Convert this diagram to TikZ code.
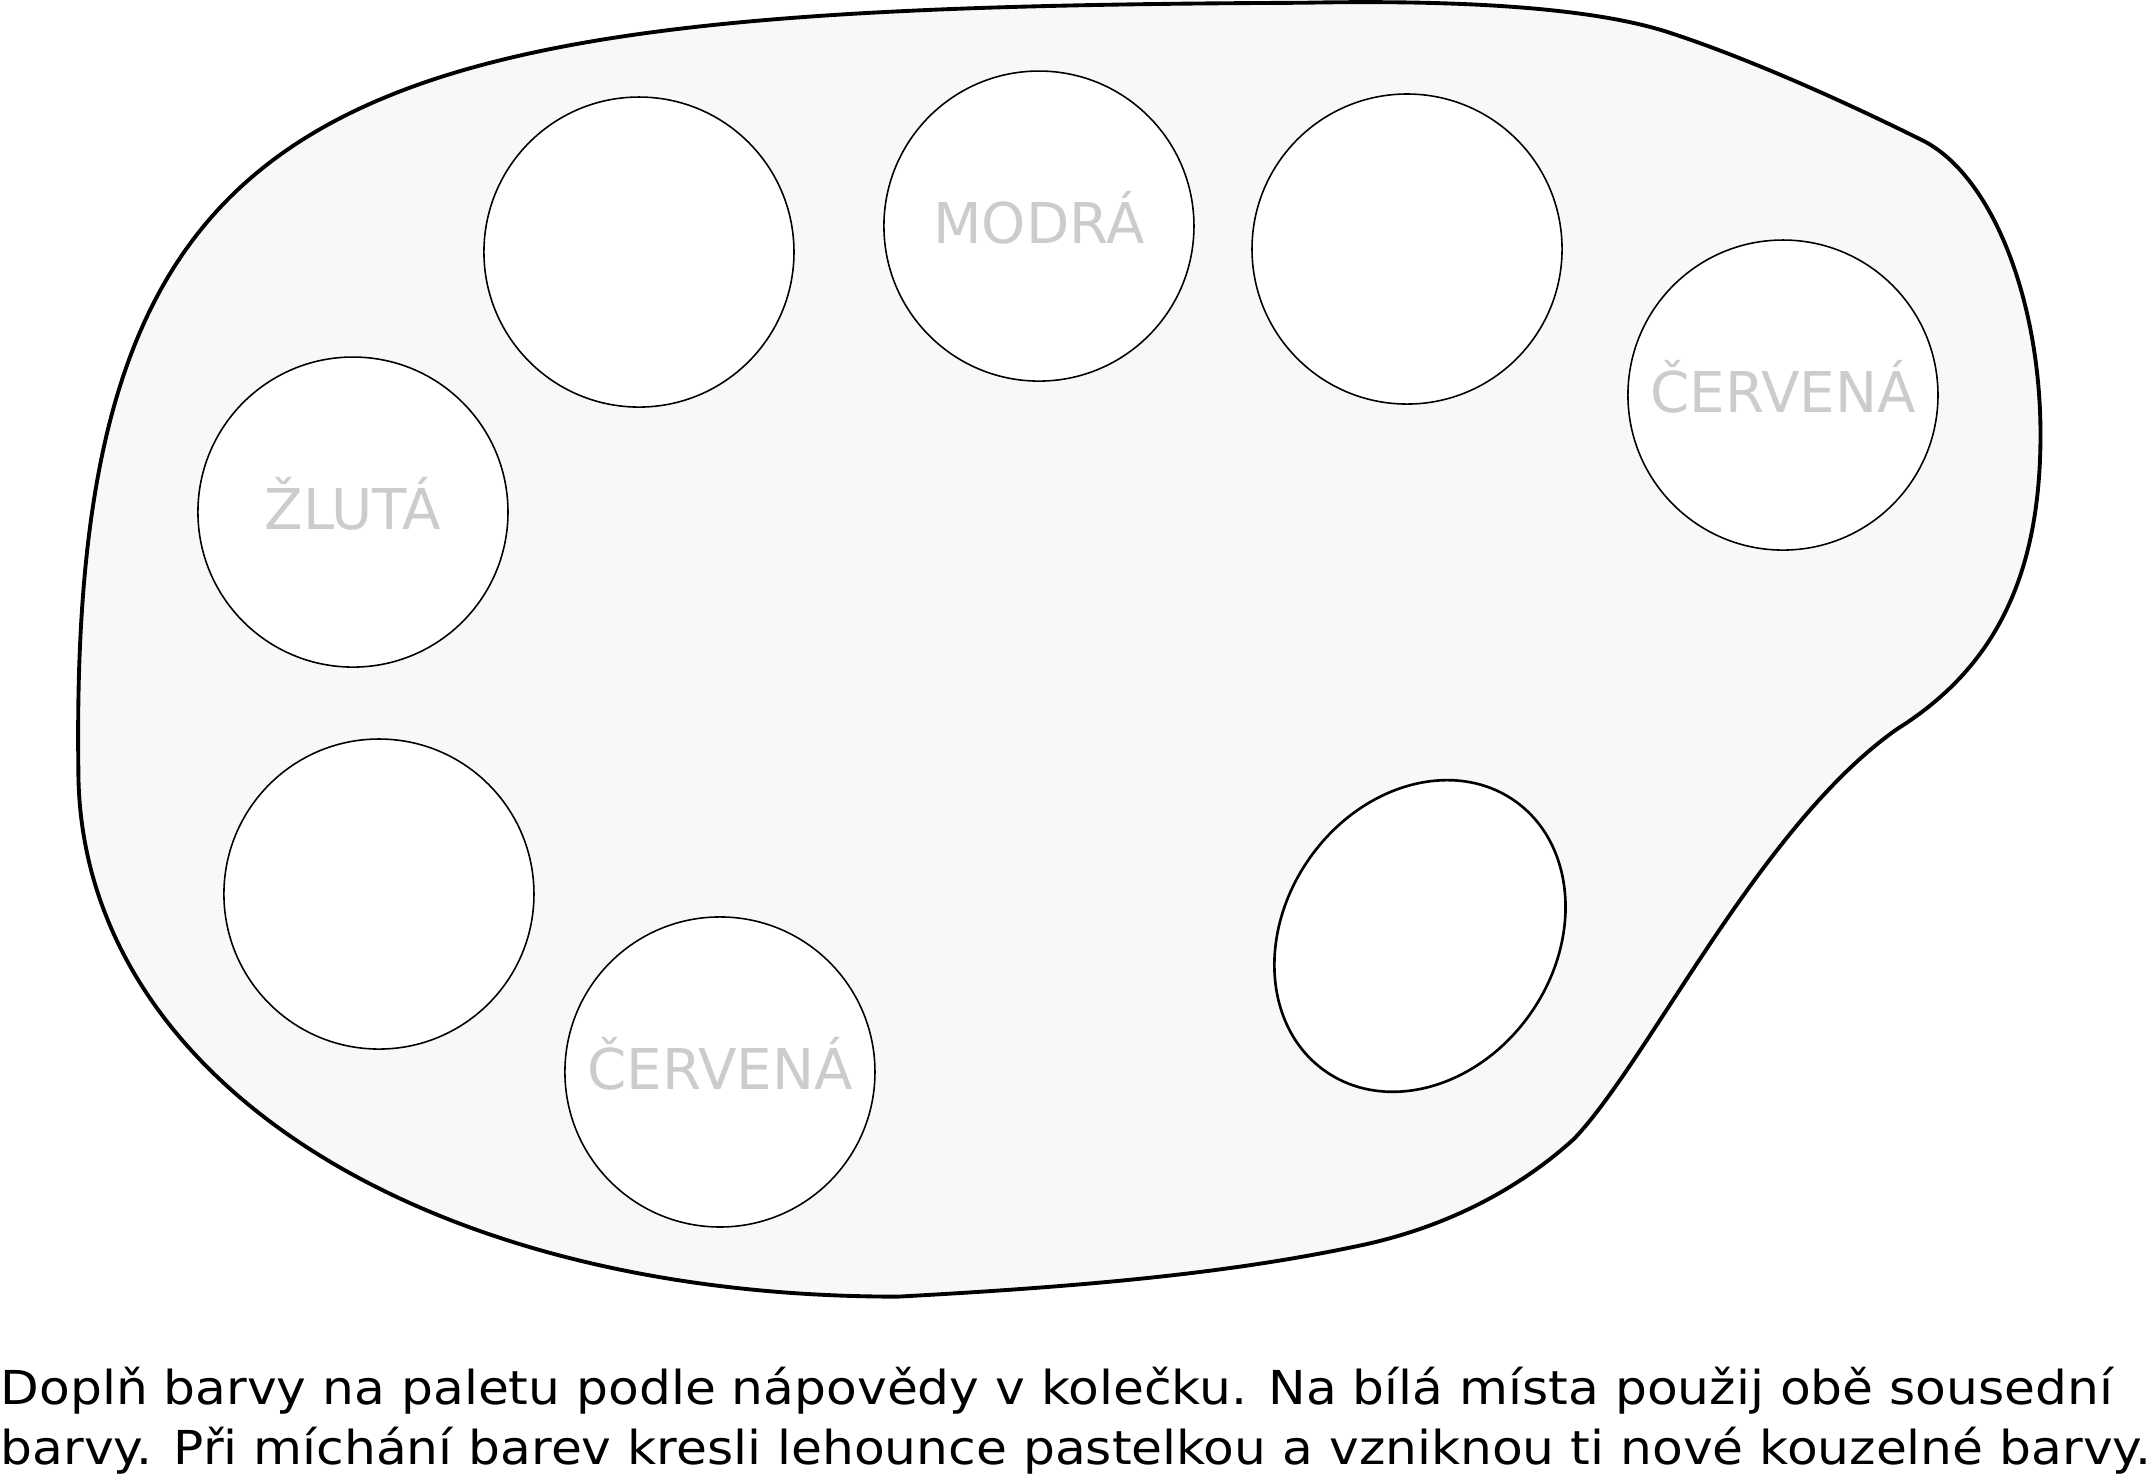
\documentclass[tikz,border=0pt]{standalone}
\usepackage{fontspec}
\setmainfont{DejaVu Sans}
\newfontfamily\taskfont[FakeStretch=1.075]{DejaVu Sans}
\usetikzlibrary{shapes.geometric}
\definecolor{palettefill}{HTML}{F8F8F8}
\definecolor{hintgray}{HTML}{CCCCCC}

\begin{document}
\begin{tikzpicture}[x=0.01375cm, y=-0.01375cm,
            pot/.style={draw, circle, fill=white, line width=0.45pt,
                minimum size=3.1cm, inner sep=0, text=hintgray,
                font=\fontsize{16}{19}\selectfont,
                text height=0.98em, text depth=0pt}]
        \useasboundingbox (0,0) rectangle (1568,1075);

        % the palette
        \draw [line width=1.1pt, fill=palettefill] (948,2)
            .. controls (250,5) and (50,50) .. (57,560)
            .. controls (57,780) and (300,943) .. (653,943)
            .. controls (800,935) and (900,925) .. (993,905)
            .. controls (1060,890) and (1110,860) .. (1145,828)
            .. controls (1200,770) and (1280,600) .. (1380,530)
            .. controls (1450,486) and (1484,420) .. (1484,316)
            .. controls (1484,220) and (1450,130) .. (1400,103)
            .. controls (1340,73) and (1270,42) .. (1215,24)
            .. controls (1155,4) and (1050,0) .. (948,2) -- cycle;

        % the wells
        \node [pot] (yellow) at (256.7,372.4) {ŽLUTÁ};
        \node [pot] (orange) at (464.7,183.3) {};
        \node [pot] (blue) at (755.6,164.4) {MODRÁ};
        \node [pot] (violet) at (1023.3,181.1) {};
        \node [pot] (red1) at (1296.7,287.3) {ČERVENÁ};
        \node [pot] (green) at (275.6,650.2) {};
        \node [pot] (red2) at (523.6,779.6) {ČERVENÁ};
        \node [draw, ellipse, fill=white, line width=0.75pt, inner sep=0,
            minimum width=3.3cm, minimum height=2.7cm, rotate=55] (thumb) at (1032.7,680.7) {};

        % the task
        \node [anchor=base west, align=left, inner sep=0,
            font=\taskfont\fontsize{13.3}{17.1}\selectfont] (task) at (0,1065)
            {Doplň barvy na paletu podle nápovědy v kolečku. Na bílá místa použij obě sousední\\
             barvy. Při míchání barev kresli lehounce pastelkou a vzniknou ti nové kouzelné barvy.};
    \end{tikzpicture}
\end{document}
